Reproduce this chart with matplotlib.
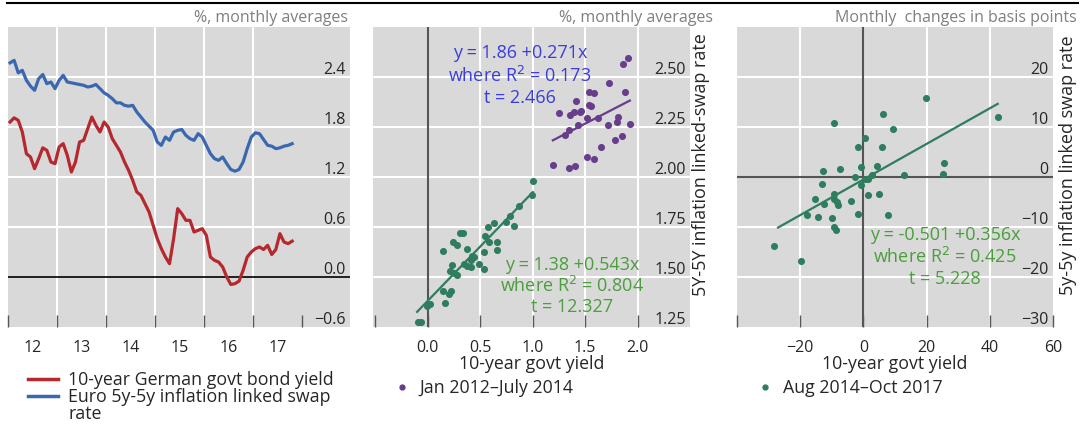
import numpy as np
import matplotlib
matplotlib.use("Agg")
import matplotlib.pyplot as plt
from matplotlib.lines import Line2D

plt.rcParams["font.family"] = ["Open Sans", "DejaVu Sans"]

W, H = 1083, 431

# ---------------- data ----------------
# Monthly averages, Jan 2012 - Oct 2017 (%)
bund_10y = [1.86, 1.91, 1.88, 1.74, 1.48, 1.44, 1.30, 1.42, 1.55, 1.52, 1.38, 1.36,
            1.56, 1.60, 1.46, 1.26, 1.38, 1.62, 1.64, 1.78, 1.92, 1.82, 1.74, 1.86,
            1.80, 1.66, 1.58, 1.50, 1.38, 1.28, 1.16, 1.02, 0.98, 0.88, 0.78, 0.62,
            0.46, 0.34, 0.24, 0.16, 0.46, 0.82, 0.76, 0.68, 0.68, 0.54, 0.56, 0.58,
            0.50, 0.24, 0.20, 0.18, 0.12, 0.00, -0.09, -0.08, -0.05, 0.08, 0.24, 0.30,
            0.34, 0.36, 0.33, 0.38, 0.27, 0.33, 0.52, 0.42, 0.40, 0.43]
swap_5y5y = [2.57, 2.60, 2.45, 2.48, 2.36, 2.29, 2.24, 2.38, 2.43, 2.32, 2.34, 2.26,
             2.36, 2.42, 2.34, 2.33, 2.32, 2.31, 2.30, 2.28, 2.29, 2.31, 2.26, 2.21,
             2.18, 2.14, 2.09, 2.09, 2.06, 2.05, 2.06, 1.98, 1.92, 1.86, 1.81, 1.76,
             1.62, 1.58, 1.68, 1.64, 1.74, 1.76, 1.77, 1.70, 1.66, 1.64, 1.72, 1.68,
             1.58, 1.48, 1.42, 1.40, 1.44, 1.36, 1.29, 1.27, 1.29, 1.38, 1.54, 1.68,
             1.73, 1.72, 1.65, 1.58, 1.57, 1.54, 1.55, 1.57, 1.58, 1.60]
year_ticks = [2012, 2013, 2014, 2015, 2016, 2017, 2018]
year_labels = ["12", "13", "14", "15", "16", "17"]

# Levels: 10-year yield vs 5y-5y swap rate
early_x = [1.908, 1.860, 1.727, 1.536, 1.590, 1.876, 1.410, 1.559, 1.251, 1.356,
           1.394, 1.451, 1.514, 1.622, 1.812, 1.800, 1.717, 1.927, 1.431, 1.346,
           1.305, 1.854, 1.790, 1.654, 1.521, 1.584, 1.193, 1.346, 1.400, 1.460,
           1.540]
early_y = [2.593, 2.565, 2.468, 2.427, 2.418, 2.423, 2.378, 2.353, 2.318, 2.310,
           2.323, 2.327, 2.295, 2.295, 2.298, 2.277, 2.260, 2.265, 2.260, 2.235,
           2.210, 2.207, 2.187, 2.152, 2.098, 2.090, 2.060, 2.045, 2.053, 2.330,
           2.360]
late_x = [1.003, 0.997, 0.870, 0.784, 0.743, 0.822, 0.632, 0.574, 0.308, 0.340,
          0.543, 0.245, 0.283, 0.584, 0.663, 0.378, 0.537, 0.663, 0.149, 0.441,
          0.410, 0.489, 0.346, 0.378, 0.235, 0.410, 0.537, 0.212, 0.250, 0.283,
          0.149, 0.219, 0.203, 0.162, 0.022, -0.003, -0.092, -0.067, 0.426]
late_y = [1.978, 1.910, 1.857, 1.807, 1.773, 1.757, 1.768, 1.748, 1.720, 1.720,
          1.707, 1.673, 1.660, 1.677, 1.677, 1.640, 1.627, 1.637, 1.632, 1.598,
          1.587, 1.565, 1.565, 1.557, 1.560, 1.548, 1.540, 1.532, 1.520, 1.510,
          1.432, 1.432, 1.415, 1.370, 1.365, 1.353, 1.273, 1.273, 1.603]
early_fit = (1.86, 0.271)
late_fit = (1.38, 0.543)

# Monthly changes (basis points), Aug 2014 - Oct 2017
chg_x = [19.7, 42.5, 6.1, -9.2, 9.3, 0.5, -1.6, 5.8, 25.4, 25.2, 13.0, -12.8, -7.5,
         -0.9, 4.2, -2.8, 0.4, 1.5, 2.6, -0.9, -13.0, 1.3, 4.8, -15.2, -9.2, -9.2,
         -8.3, -8.1, -12.4, -3.8, -17.9, -14.5, -9.9, -1.6, 7.7, -9.2, -8.6, -28.2,
         -19.7]
chg_y = [15.9, 12.0, 12.7, 10.8, 9.6, 7.8, 6.0, 6.0, 2.9, 0.6, 0.5, 1.2, 1.6, 2.0,
         2.2, 0.0, -0.3, -0.4, 0.5, -1.5, -1.3, -3.5, -3.3, -4.3, -3.3, -4.3, -5.0,
         -5.6, -5.3, -4.8, -7.6, -8.0, -8.2, -7.3, -7.6, -10.0, -10.6, -13.8, -16.8]
chg_fit = (-0.501, 0.356)

# ---------------- style ----------------
BG = "#d9d9d9"
RED = "#b5282e"
BLUE = "#3a68b0"
PURPLE = "#673d8c"
GREEN = "#2e7d5e"
TXT_BLUE = "#3c3cdc"
TXT_GREEN = "#4a9e3c"
GREY_TXT = "#7f7f7f"
DARK = "#262626"
FS = 11.5        # tick labels, headers
FS_TXT = 12.8    # legends, axis titles
FS_ANN = 13.0    # regression notes


def fx(px):
    return px / W


def fy(py):
    return 1 - py / H


fig = plt.figure(figsize=(W / 100, H / 100), dpi=100)

top, bot = 28, 328


def make_axes(x0, x1):
    ax = fig.add_axes([fx(x0), fy(bot), (x1 - x0) / W, (bot - top) / H])
    ax.set_facecolor(BG)
    for s in ax.spines.values():
        s.set_visible(False)
    ax.tick_params(axis="x", direction="in", length=9, width=1, color="#555555",
                   labelsize=FS, labelcolor=DARK, pad=9)
    ax.yaxis.tick_right()
    ax.tick_params(axis="y", direction="in", length=0, pad=-3, labelsize=FS,
                   labelcolor=DARK, labelright=True, labelleft=False)
    return ax


def right_labels(ax):
    for lab in ax.get_yticklabels():
        lab.set_horizontalalignment("right")
        lab.set_verticalalignment("bottom")


def hgrid(ax, vals):
    for v in vals:
        ax.axhline(v, color="white", lw=1.5, zorder=0.5)


def vgrid(ax, vals):
    for v in vals:
        ax.axvline(v, color="white", lw=1.5, zorder=0.5)


# ---- panel 1: time series ----
ax1 = make_axes(8, 350)
t = 2012 + (np.arange(len(bund_10y)) + 0.5) / 12
ax1.set_xlim(2012.0, 2018.97)
ax1.set_ylim(-0.6, 3.0)
hgrid(ax1, [0.6, 1.2, 1.8, 2.4])
vgrid(ax1, year_ticks[1:-1])
ax1.axhline(0, color="black", lw=1.2, zorder=1)
ax1.plot(t, swap_5y5y, color=BLUE, lw=2.3, zorder=3)
ax1.plot(t, bund_10y, color=RED, lw=2.3, zorder=3)
ax1.set_xticks(year_ticks)
ax1.set_xticklabels([])
ax1.set_xticks([y + 0.5 for y in year_ticks[:-1]], minor=True)
ax1.set_xticklabels(year_labels, minor=True)
ax1.tick_params(axis="x", which="minor", length=0, labelsize=FS, labelcolor=DARK, pad=9)
yt1 = [-0.6, 0.0, 0.6, 1.2, 1.8, 2.4]
ax1.set_yticks(yt1)
ax1.set_yticklabels([f"{v:.1f}".replace("-", "\u2212") for v in yt1])
right_labels(ax1)

# ---- panel 2: levels scatter ----
ax2 = make_axes(373, 690)
ax2.set_xlim(-0.52, 2.5)
ax2.set_ylim(1.25, 2.75)
hgrid(ax2, [1.5, 1.75, 2.0, 2.25, 2.5])
vgrid(ax2, [0.5, 1.0, 1.5, 2.0])
ax2.axvline(0, color="#555555", lw=1.5, zorder=1)
ax2.scatter(early_x, early_y, s=26, color=PURPLE, zorder=3, linewidths=0)
ax2.scatter(late_x, late_y, s=26, color=GREEN, zorder=3, linewidths=0)
xe = np.array([min(early_x), max(early_x)])
ax2.plot(xe, early_fit[0] + early_fit[1] * xe, color=PURPLE, lw=1.6, zorder=2)
xl = np.array([-0.1, max(late_x)])
ax2.plot(xl, late_fit[0] + late_fit[1] * xl, color=GREEN, lw=1.6, zorder=2)
ax2.set_xticks([-0.5, 0.0, 0.5, 1.0, 1.5, 2.0])
ax2.set_xticklabels(["", "0.0", "0.5", "1.0", "1.5", "2.0"])
yt2 = [1.25, 1.5, 1.75, 2.0, 2.25, 2.5]
ax2.set_yticks(yt2)
ax2.set_yticklabels([f"{v:.2f}" for v in yt2])
right_labels(ax2)
ax2.set_xlabel("10-year govt yield", fontsize=FS_TXT, color=DARK, labelpad=-1)
for i, s in enumerate(["y = 1.86 +0.271x", "where R$^2$ = 0.173", "t = 2.466"]):
    fig.text(fx(520), fy(53 + 22.5 * i), s, color=TXT_BLUE, fontsize=FS_ANN,
             ha="center", va="center")
for i, s in enumerate(["y = 1.38 +0.543x", "where R$^2$ = 0.804", "t = 12.327"]):
    fig.text(fx(572), fy(265 + 21 * i), s, color=TXT_GREEN, fontsize=FS_ANN,
             ha="center", va="center")
fig.text(fx(701), fy(165), "5Y-5Y inflation linked-swap rate", rotation=90,
         fontsize=FS_ANN, color=DARK, ha="center", va="center")

# ---- panel 3: changes scatter ----
ax3 = make_axes(737, 1053)
ax3.set_xlim(-40, 60)
ax3.set_ylim(-30, 30)
hgrid(ax3, [-20, -10, 10, 20])
vgrid(ax3, [-20, 20, 40])
ax3.axvline(0, color="#555555", lw=1.5, zorder=1)
ax3.axhline(0, color="#555555", lw=1.5, zorder=1)
ax3.scatter(chg_x, chg_y, s=26, color=GREEN, zorder=3, linewidths=0)
xc = np.array([-27.0, max(chg_x)])
ax3.plot(xc, chg_fit[0] + chg_fit[1] * xc, color=GREEN, lw=1.6, zorder=2)
ax3.set_xticks([-40, -20, 0, 20, 40, 60])
ax3.set_xticklabels(["", "\u221220", "0", "20", "40", "60"])
yt3 = [-30, -20, -10, 0, 10, 20]
ax3.set_yticks(yt3)
ax3.set_yticklabels([str(v).replace("-", "\u2212") for v in yt3])
right_labels(ax3)
ax3.set_xlabel("10-year govt yield", fontsize=FS_TXT, color=DARK, labelpad=-1)
for i, s in enumerate(["y = -0.501 +0.356x", "where R$^2$ = 0.425", "t = 5.228"]):
    fig.text(fx(945), fy(235 + 22 * i), s, color=TXT_GREEN, fontsize=FS_ANN,
             ha="center", va="center")
fig.text(fx(1068), fy(165), "5y-5y inflation linked swap rate", rotation=90,
         fontsize=FS_ANN, color=DARK, ha="center", va="center")

# ---- headers and top rule ----
fig.add_artist(Line2D([fx(7), fx(1078)], [fy(4), fy(4)], color="black", lw=1.5))
fig.text(fx(348), fy(18), "%, monthly averages", color=GREY_TXT, fontsize=FS,
         ha="right", va="center")
fig.text(fx(713), fy(18), "%, monthly averages", color=GREY_TXT, fontsize=FS,
         ha="right", va="center")
fig.text(fx(1077), fy(18), "Monthly  changes in basis points", color=GREY_TXT,
         fontsize=FS, ha="right", va="center")

# ---- legends ----
fig.add_artist(Line2D([fx(28), fx(58)], [fy(380), fy(380)], color=RED, lw=2.5))
fig.add_artist(Line2D([fx(28), fx(58)], [fy(397), fy(397)], color=BLUE, lw=2.5))
fig.text(fx(68), fy(380), "10-year German govt bond yield", fontsize=FS_TXT,
         color=DARK, ha="left", va="center")
fig.text(fx(68), fy(397), "Euro 5y-5y inflation linked swap", fontsize=FS_TXT,
         color=DARK, ha="left", va="center")
fig.text(fx(68), fy(414), "rate", fontsize=FS_TXT, color=DARK, ha="left", va="center")

fig.add_artist(Line2D([fx(402)], [fy(388)], marker="o", ms=3.5, color=PURPLE, lw=0))
fig.text(fx(419), fy(388), "Jan 2012\u2013July 2014", fontsize=FS_TXT, color=DARK,
         ha="left", va="center")
fig.add_artist(Line2D([fx(765)], [fy(388)], marker="o", ms=3.5, color=GREEN, lw=0))
fig.text(fx(783), fy(388), "Aug 2014\u2013Oct 2017", fontsize=FS_TXT, color=DARK,
         ha="left", va="center")

fig.savefig("out.png", dpi=100, facecolor="white")
